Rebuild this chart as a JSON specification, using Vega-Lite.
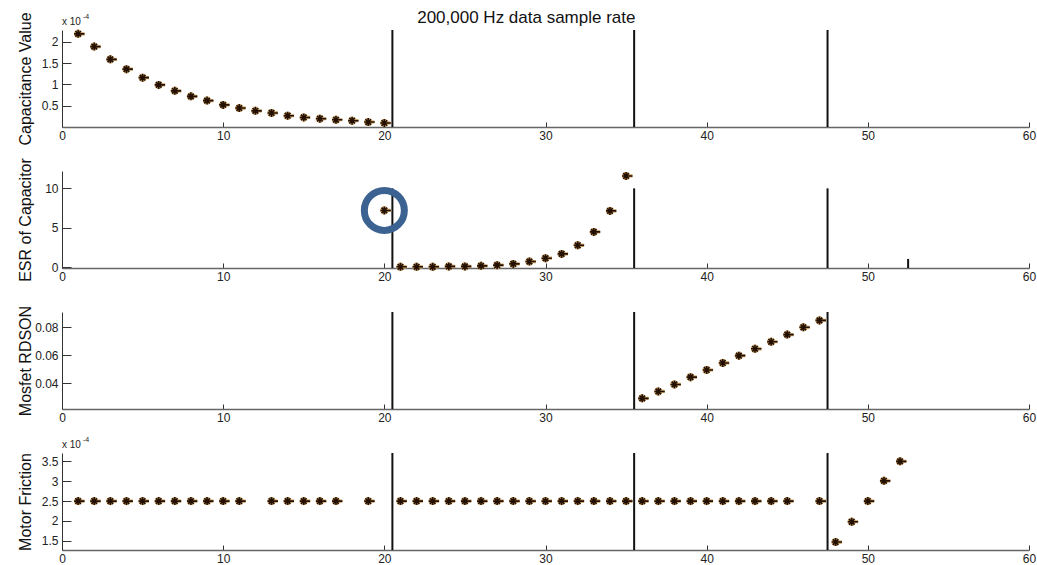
{
  "$schema": "https://vega.github.io/schema/vega-lite/v6.json",
  "padding": {"left": 16, "top": 8, "right": 5, "bottom": 0},
  "background": "white",
  "title": {"text": "200,000 Hz data sample rate", "fontSize": 17, "fontWeight": "normal", "font": "Liberation Sans", "color": "#111", "anchor": "middle", "offset": -15},
  "datasets": {
    "points": [
      {"panel": "cap", "x": 1, "y": 0.000219}, {"panel": "cap", "x": 2, "y": 0.000189}, {"panel": "cap", "x": 3, "y": 0.000159}, {"panel": "cap", "x": 4, "y": 0.000136},
      {"panel": "cap", "x": 5, "y": 0.000116}, {"panel": "cap", "x": 6, "y": 0.000099}, {"panel": "cap", "x": 7, "y": 0.000085}, {"panel": "cap", "x": 8, "y": 0.000072},
      {"panel": "cap", "x": 9, "y": 0.000062}, {"panel": "cap", "x": 10, "y": 0.000052}, {"panel": "cap", "x": 11, "y": 0.0000445}, {"panel": "cap", "x": 12, "y": 0.000038},
      {"panel": "cap", "x": 13, "y": 0.000033}, {"panel": "cap", "x": 14, "y": 0.0000265}, {"panel": "cap", "x": 15, "y": 0.0000225}, {"panel": "cap", "x": 16, "y": 0.0000195},
      {"panel": "cap", "x": 17, "y": 0.000017}, {"panel": "cap", "x": 18, "y": 0.0000148}, {"panel": "cap", "x": 19, "y": 0.0000117}, {"panel": "cap", "x": 20, "y": 0.0000094},
      {"panel": "esr", "x": 20, "y": 7.2}, {"panel": "esr", "x": 21, "y": 0.05}, {"panel": "esr", "x": 22, "y": 0.05}, {"panel": "esr", "x": 23, "y": 0.05},
      {"panel": "esr", "x": 24, "y": 0.1}, {"panel": "esr", "x": 25, "y": 0.1}, {"panel": "esr", "x": 26, "y": 0.17}, {"panel": "esr", "x": 27, "y": 0.26},
      {"panel": "esr", "x": 28, "y": 0.42}, {"panel": "esr", "x": 29, "y": 0.72}, {"panel": "esr", "x": 30, "y": 1.14}, {"panel": "esr", "x": 31, "y": 1.69},
      {"panel": "esr", "x": 32, "y": 2.78}, {"panel": "esr", "x": 33, "y": 4.48}, {"panel": "esr", "x": 34, "y": 7.14}, {"panel": "esr", "x": 35, "y": 11.57},
      {"panel": "mos", "x": 36, "y": 0.0294}, {"panel": "mos", "x": 37, "y": 0.0343}, {"panel": "mos", "x": 38, "y": 0.0393}, {"panel": "mos", "x": 39, "y": 0.0445},
      {"panel": "mos", "x": 40, "y": 0.0496}, {"panel": "mos", "x": 41, "y": 0.0546}, {"panel": "mos", "x": 42, "y": 0.0598}, {"panel": "mos", "x": 43, "y": 0.0647},
      {"panel": "mos", "x": 44, "y": 0.0697}, {"panel": "mos", "x": 45, "y": 0.0748}, {"panel": "mos", "x": 46, "y": 0.08}, {"panel": "mos", "x": 47, "y": 0.0849},
      {"panel": "fric", "x": 1, "y": 0.00025}, {"panel": "fric", "x": 2, "y": 0.00025}, {"panel": "fric", "x": 3, "y": 0.00025}, {"panel": "fric", "x": 4, "y": 0.00025},
      {"panel": "fric", "x": 5, "y": 0.00025}, {"panel": "fric", "x": 6, "y": 0.00025}, {"panel": "fric", "x": 7, "y": 0.00025}, {"panel": "fric", "x": 8, "y": 0.00025},
      {"panel": "fric", "x": 9, "y": 0.00025}, {"panel": "fric", "x": 10, "y": 0.00025}, {"panel": "fric", "x": 11, "y": 0.00025}, {"panel": "fric", "x": 13, "y": 0.00025},
      {"panel": "fric", "x": 14, "y": 0.00025}, {"panel": "fric", "x": 15, "y": 0.00025}, {"panel": "fric", "x": 16, "y": 0.00025}, {"panel": "fric", "x": 17, "y": 0.00025},
      {"panel": "fric", "x": 19, "y": 0.00025}, {"panel": "fric", "x": 21, "y": 0.00025}, {"panel": "fric", "x": 22, "y": 0.00025}, {"panel": "fric", "x": 23, "y": 0.00025},
      {"panel": "fric", "x": 24, "y": 0.00025}, {"panel": "fric", "x": 25, "y": 0.00025}, {"panel": "fric", "x": 26, "y": 0.00025}, {"panel": "fric", "x": 27, "y": 0.00025},
      {"panel": "fric", "x": 28, "y": 0.00025}, {"panel": "fric", "x": 29, "y": 0.00025}, {"panel": "fric", "x": 30, "y": 0.00025}, {"panel": "fric", "x": 31, "y": 0.00025},
      {"panel": "fric", "x": 32, "y": 0.00025}, {"panel": "fric", "x": 33, "y": 0.00025}, {"panel": "fric", "x": 34, "y": 0.00025}, {"panel": "fric", "x": 35, "y": 0.00025},
      {"panel": "fric", "x": 36, "y": 0.00025}, {"panel": "fric", "x": 37, "y": 0.00025}, {"panel": "fric", "x": 38, "y": 0.00025}, {"panel": "fric", "x": 39, "y": 0.00025},
      {"panel": "fric", "x": 40, "y": 0.00025}, {"panel": "fric", "x": 41, "y": 0.00025}, {"panel": "fric", "x": 42, "y": 0.00025}, {"panel": "fric", "x": 43, "y": 0.00025},
      {"panel": "fric", "x": 44, "y": 0.00025}, {"panel": "fric", "x": 45, "y": 0.00025}, {"panel": "fric", "x": 47, "y": 0.00025}, {"panel": "fric", "x": 48, "y": 0.000147},
      {"panel": "fric", "x": 49, "y": 0.000198}, {"panel": "fric", "x": 50, "y": 0.00025}, {"panel": "fric", "x": 51, "y": 0.000301}, {"panel": "fric", "x": 52, "y": 0.00035}
    ],
    "vlines": [
      {"panel": "cap", "x": 20.5}, {"panel": "cap", "x": 35.5}, {"panel": "cap", "x": 47.5},
      {"panel": "mos", "x": 20.5}, {"panel": "mos", "x": 35.5}, {"panel": "mos", "x": 47.5},
      {"panel": "fric", "x": 20.5}, {"panel": "fric", "x": 35.5}, {"panel": "fric", "x": 47.5}
    ],
    "esrlines": [
      {"x": 20.5, "y0": -0.1, "y1": 10}, {"x": 35.5, "y0": -0.1, "y1": 10}, {"x": 47.5, "y0": -0.1, "y1": 10}, {"x": 52.5, "y0": -0.1, "y1": 1.05}
    ],
    "highlight": [{"x": 20, "y": 7.2}],
    "multiplier": [{"t": "x 10", "e": "-4"}]
  },
  "vconcat": [
    {
      "width": 967, "height": 97,
      "layer": [
        {"data": {"name": "vlines"}, "transform": [{"filter": "datum.panel == 'cap'"}], "mark": {"type": "rule", "color": "#111", "strokeWidth": 2},
         "encoding": {"x": {"field": "x", "type": "quantitative", "scale": {"domain": [0, 60], "nice": false}, "axis": {"values": [0, 10, 20, 30, 40, 50, 60], "title": null}}}},
        {"data": {"name": "points"}, "transform": [{"filter": "datum.panel == 'cap'"}], "mark": {"type": "point", "shape": "M-1,0L1.6,0M0,-1L0,1M-0.7,-0.7L0.7,0.7M-0.7,0.7L0.7,-0.7", "color": "#c9a066", "strokeWidth": 3.2, "size": 64, "opacity": 1},
         "encoding": {"x": {"field": "x", "type": "quantitative", "scale": {"domain": [0, 60], "nice": false}, "axis": {"values": [0, 10, 20, 30, 40, 50, 60], "title": null}},
                      "y": {"field": "y", "type": "quantitative", "scale": {"domain": [0, 0.000228], "nice": false, "zero": false}, "axis": {"title": "Capacitance Value", "values": [0.00005, 0.0001, 0.00015, 0.0002], "tickCount": 20, "labelExpr": "format(datum.value*1e4, '~g')"}}}},
        {"data": {"name": "points"}, "transform": [{"filter": "datum.panel == 'cap'"}], "mark": {"type": "point", "shape": "M-1,0L1.6,0M0,-1L0,1M-0.7,-0.7L0.7,0.7M-0.7,0.7L0.7,-0.7", "color": "#241000", "strokeWidth": 1.6, "size": 64, "opacity": 1},
         "encoding": {"x": {"field": "x", "type": "quantitative"}, "y": {"field": "y", "type": "quantitative"}}},
        {"data": {"name": "multiplier"}, "mark": {"type": "text", "align": "left", "baseline": "alphabetic", "dy": -5, "fontSize": 10, "color": "#222"},
         "encoding": {"x": {"datum": 0, "type": "quantitative"}, "y": {"datum": 0.000228, "type": "quantitative"}, "text": {"field": "t"}}},
        {"data": {"name": "multiplier"}, "mark": {"type": "text", "align": "left", "baseline": "alphabetic", "dx": 21, "dy": -11, "fontSize": 7, "color": "#222"},
         "encoding": {"x": {"datum": 0, "type": "quantitative"}, "y": {"datum": 0.000228, "type": "quantitative"}, "text": {"field": "e"}}}
      ]
    },
    {
      "width": 967, "height": 97,
      "layer": [
        {"data": {"name": "esrlines"}, "mark": {"type": "rule", "color": "#111", "strokeWidth": 2},
         "encoding": {"x": {"field": "x", "type": "quantitative", "scale": {"domain": [0, 60], "nice": false}, "axis": {"values": [0, 10, 20, 30, 40, 50, 60], "title": null}},
                      "y": {"field": "y0", "type": "quantitative", "scale": {"domain": [-0.1, 12.2], "nice": false, "zero": false}, "axis": {"title": "ESR of Capacitor", "values": [0, 5, 10], "tickCount": 20, "format": "d"}},
                      "y2": {"field": "y1"}}},
        {"data": {"name": "points"}, "transform": [{"filter": "datum.panel == 'esr'"}], "mark": {"type": "point", "shape": "M-1,0L1.6,0M0,-1L0,1M-0.7,-0.7L0.7,0.7M-0.7,0.7L0.7,-0.7", "color": "#c9a066", "strokeWidth": 3.2, "size": 64, "opacity": 1},
         "encoding": {"x": {"field": "x", "type": "quantitative"}, "y": {"field": "y", "type": "quantitative"}}},
        {"data": {"name": "points"}, "transform": [{"filter": "datum.panel == 'esr'"}], "mark": {"type": "point", "shape": "M-1,0L1.6,0M0,-1L0,1M-0.7,-0.7L0.7,0.7M-0.7,0.7L0.7,-0.7", "color": "#241000", "strokeWidth": 1.6, "size": 64, "opacity": 1},
         "encoding": {"x": {"field": "x", "type": "quantitative"}, "y": {"field": "y", "type": "quantitative"}}},
        {"data": {"name": "highlight"}, "mark": {"type": "point", "shape": "circle", "filled": false, "color": "#3b6291", "strokeWidth": 7, "size": 1600, "opacity": 1},
         "encoding": {"x": {"field": "x", "type": "quantitative"}, "y": {"field": "y", "type": "quantitative"}}}
      ]
    },
    {
      "width": 967, "height": 97,
      "layer": [
        {"data": {"name": "vlines"}, "transform": [{"filter": "datum.panel == 'mos'"}], "mark": {"type": "rule", "color": "#111", "strokeWidth": 2},
         "encoding": {"x": {"field": "x", "type": "quantitative", "scale": {"domain": [0, 60], "nice": false}, "axis": {"values": [0, 10, 20, 30, 40, 50, 60], "title": null}}}},
        {"data": {"name": "points"}, "transform": [{"filter": "datum.panel == 'mos'"}], "mark": {"type": "point", "shape": "M-1,0L1.6,0M0,-1L0,1M-0.7,-0.7L0.7,0.7M-0.7,0.7L0.7,-0.7", "color": "#c9a066", "strokeWidth": 3.2, "size": 64, "opacity": 1},
         "encoding": {"x": {"field": "x", "type": "quantitative", "scale": {"domain": [0, 60], "nice": false}, "axis": {"values": [0, 10, 20, 30, 40, 50, 60], "title": null}},
                      "y": {"field": "y", "type": "quantitative", "scale": {"domain": [0.0218, 0.0909], "nice": false, "zero": false}, "axis": {"title": "Mosfet RDSON", "values": [0.04, 0.06, 0.08], "tickCount": 20, "format": ".2f"}}}},
        {"data": {"name": "points"}, "transform": [{"filter": "datum.panel == 'mos'"}], "mark": {"type": "point", "shape": "M-1,0L1.6,0M0,-1L0,1M-0.7,-0.7L0.7,0.7M-0.7,0.7L0.7,-0.7", "color": "#241000", "strokeWidth": 1.6, "size": 64, "opacity": 1},
         "encoding": {"x": {"field": "x", "type": "quantitative"}, "y": {"field": "y", "type": "quantitative"}}}
      ]
    },
    {
      "width": 967, "height": 97,
      "layer": [
        {"data": {"name": "vlines"}, "transform": [{"filter": "datum.panel == 'fric'"}], "mark": {"type": "rule", "color": "#111", "strokeWidth": 2},
         "encoding": {"x": {"field": "x", "type": "quantitative", "scale": {"domain": [0, 60], "nice": false}, "axis": {"values": [0, 10, 20, 30, 40, 50, 60], "title": null}}}},
        {"data": {"name": "points"}, "transform": [{"filter": "datum.panel == 'fric'"}], "mark": {"type": "point", "shape": "M-1,0L1.6,0M0,-1L0,1M-0.7,-0.7L0.7,0.7M-0.7,0.7L0.7,-0.7", "color": "#c9a066", "strokeWidth": 3.2, "size": 64, "opacity": 1},
         "encoding": {"x": {"field": "x", "type": "quantitative", "scale": {"domain": [0, 60], "nice": false}, "axis": {"values": [0, 10, 20, 30, 40, 50, 60], "title": null}},
                      "y": {"field": "y", "type": "quantitative", "scale": {"domain": [0.000127, 0.000371], "nice": false, "zero": false}, "axis": {"title": "Motor Friction", "values": [0.00015, 0.0002, 0.00025, 0.0003, 0.00035], "tickCount": 20, "labelExpr": "format(datum.value*1e4, '~g')"}}}},
        {"data": {"name": "points"}, "transform": [{"filter": "datum.panel == 'fric'"}], "mark": {"type": "point", "shape": "M-1,0L1.6,0M0,-1L0,1M-0.7,-0.7L0.7,0.7M-0.7,0.7L0.7,-0.7", "color": "#241000", "strokeWidth": 1.6, "size": 64, "opacity": 1},
         "encoding": {"x": {"field": "x", "type": "quantitative"}, "y": {"field": "y", "type": "quantitative"}}},
        {"data": {"name": "multiplier"}, "mark": {"type": "text", "align": "left", "baseline": "alphabetic", "dy": -5, "fontSize": 10, "color": "#222"},
         "encoding": {"x": {"datum": 0, "type": "quantitative"}, "y": {"datum": 0.000371, "type": "quantitative"}, "text": {"field": "t"}}},
        {"data": {"name": "multiplier"}, "mark": {"type": "text", "align": "left", "baseline": "alphabetic", "dx": 21, "dy": -11, "fontSize": 7, "color": "#222"},
         "encoding": {"x": {"datum": 0, "type": "quantitative"}, "y": {"datum": 0.000371, "type": "quantitative"}, "text": {"field": "e"}}}
      ]
    }
  ],
  "spacing": 44,
  "bounds": "flush",
  "config": {
    "view": {"stroke": null},
    "font": "Liberation Sans",
    "axis": {"grid": false, "domainColor": "#333", "tickColor": "#333", "labelColor": "#222", "labelFont": "Liberation Sans", "labelFontSize": 12, "labelOverlap": false, "titleFont": "Liberation Sans", "titleFontSize": 16, "titleFontWeight": "normal", "titleColor": "#111"},
    "axisX": {"tickSize": -5, "labelPadding": 8, "domainColor": "#666", "domainWidth": 1.5, "labelFlush": false, "tickCount": 20, "format": "d"},
    "axisY": {"tickSize": -9, "labelPadding": 13, "titleX": -29}
  }
}
